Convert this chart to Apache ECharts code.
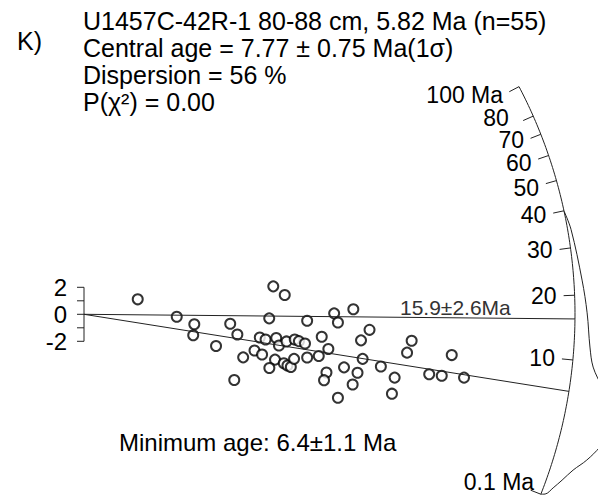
<!DOCTYPE html>
<html>
<head>
<meta charset="utf-8">
<title>Radial plot U1457C-42R-1</title>
<script src="https://cdn.jsdelivr.net/npm/echarts@6/dist/echarts.min.js"></script>
<style>
  html, body { margin: 0; padding: 0; background: #fff; }
  #chart { width: 613px; height: 497px; }
</style>
</head>
<body>
<div id="chart"></div>
<script>
// grains: precision (x) and standardised estimate (y)
const precision = [3.98, 6.87, 8.17, 8.09, 9.78, 10.83, 11.36, 11.79, 11.13, 12.63,
  13.19, 13.02, 13.45, 13.72, 14.02, 14.87, 14.24, 14.44, 15.00, 15.61,
  15.92, 16.37, 14.15, 13.73, 14.80, 15.07, 15.32, 15.56, 16.53, 16.53,
  17.39, 17.61, 18.10, 17.96, 17.78, 18.53, 18.81, 18.81, 19.95, 21.15,
  20.52, 20.64, 19.26, 20.26, 19.90, 24.27, 23.93, 27.24, 21.99, 23.01,
  25.57, 26.50, 28.15, 22.81];
const zScore = [1.11, -0.18, -0.74, -1.55, -2.35, -0.70, -1.50, -3.19, -4.87, -2.68,
  -2.98, -1.72, -1.87, -0.30, 2.07, 1.43, -1.76, -2.31, -2.01, -1.87,
  -1.99, -2.16, -3.36, -3.98, -3.63, -3.79, -3.90, -3.30, -0.48, -3.20,
  -3.09, -1.66, -2.57, -4.31, -4.88, 0.07, -0.61, -6.18, 0.37, -1.15,
  -1.93, -3.30, -3.93, -4.33, -5.20, -1.96, -2.84, -3.02, -3.87, -4.69,
  -4.44, -4.55, -4.69, -5.88];

// age scale on the arc (Ma)
const arcTickAges = [100, 80, 70, 60, 50, 40, 30, 20, 10, 0.1];
const arcTickLabels = ['100 Ma', '80', '70', '60', '50', '40', '30', '20', '10', '0.1 Ma'];

// standardised estimate scale
const zTicks = [2, 1, 0, -1, -2];
const zTickLabels = ['2', '', '0', '', '-2'];

// component lines (Ma)
const peakAges = [15.9, 6.4];

// density of the ages, drawn outside the arc (relative)
const kdeAges = [39.9, 34.5, 22.8, 16.9, 11.85, 9.38, 7.34, 5.60, 4.58, 3.59, 2.55, 1.66, 1.04, 0.57, 0.29, 0.125, 0.1];
const kdeDensity = [0, 0.07, 0.17, 0.25, 0.33, 0.43, 0.66, 0.89, 1.0, 0.99, 0.86, 0.67, 0.46, 0.31, 0.19, 0.08, 0];

// radial scale: age -> angle of the line through the origin
const C = 0.0042, K = 1.654, Z0 = 0.2586;
function ageAngle(t) {
  const z = Math.atan(Math.sqrt(C * t));
  return Math.atan(K * (z - Z0));
}

const PX = 13.5;          // px per unit, both axes
const R = 491 / PX;       // arc radius
const TICK = 11 / PX;
const LAB = 18 / PX;
const KDE_SCALE = 48.5 / PX;
const FONT = 'Liberation Sans, Arial, sans-serif';

function polar(r, a) { return [r * Math.cos(a), r * Math.sin(a)]; }

// arc from 0.1 to 100 Ma
const a0 = ageAngle(0.1), a1 = ageAngle(100);
const arcData = [];
for (let i = 0; i <= 120; i++) arcData.push(polar(R, a0 + (a1 - a0) * i / 120));

const kdeData = kdeAges.map((t, i) => polar(R + kdeDensity[i] * KDE_SCALE, ageAngle(t)));

const chart = echarts.init(document.getElementById('chart'), null, { renderer: 'svg' });

const lineSeries = peakAges.map(t => ({
  type: 'line',
  data: [[0, 0], polar(R, ageAngle(t))],
  showSymbol: false,
  clip: false,
  lineStyle: { color: '#222', width: 1 },
  silent: true
}));

function txt(text, x, y, size, fill) {
  return { type: 'text', style: { text: text, x: x, y: y, font: size + 'px ' + FONT, fill: fill || '#000',
    textVerticalAlign: 'middle', verticalAlign: 'middle' } };
}

const option = {
  animation: false,
  backgroundColor: '#fff',
  // x 0..38, y -13..18 at 13.5 px per unit, origin at (84, 314.3)
  grid: { left: 84, right: 16, top: 71.3, bottom: 7.2, outerBoundsMode: 'none', containLabel: false },
  xAxis: { type: 'value', min: 0, max: 38, show: false },
  yAxis: { type: 'value', min: -13, max: 18, show: false },
  graphic: [
    txt('K)', 17, 41, 25),
    txt('U1457C-42R-1 80-88 cm, 5.82 Ma (n=55)', 83, 21, 25),
    txt('Central age = 7.77 ± 0.75 Ma(1σ)', 83, 48, 25),
    txt('Dispersion = 56 %', 83, 75, 25),
    txt('P(χ²) = 0.00', 83, 102, 25),
    txt('Minimum age: 6.4±1.1 Ma', 119, 442, 24),
    txt('15.9±2.6Ma', 400, 307, 21, '#333')
  ],
  series: [
    {
      type: 'line',
      data: arcData,
      showSymbol: false,
      clip: false,
      lineStyle: { color: '#222', width: 1 },
      silent: true
    },
    ...lineSeries,
    {
      type: 'line',
      data: kdeData,
      smooth: 0.35,
      showSymbol: false,
      clip: false,
      lineStyle: { color: '#222', width: 1 },
      silent: true
    },
    {
      // ticks and labels of the age arc
      type: 'custom',
      clip: false,
      silent: true,
      data: arcTickAges.map((t, i) => [i, 0]),
      renderItem: function (params, api) {
        const i = params.dataIndex;
        const a = ageAngle(arcTickAges[i]);
        const p1 = api.coord(polar(R, a));
        const p2 = api.coord(polar(R - TICK, a));
        const pl = api.coord(polar(R - LAB, a));
        // crowded labels near the top, and the end label, are nudged like in the original
        let dx = 0, dy = 0;
        if (arcTickLabels[i] === '80') { dx = -8; dy = -5; }
        if (arcTickLabels[i] === '70') { dy = -1; }
        if (arcTickLabels[i] === '60') { dy = 2; }
        if (arcTickLabels[i] === '50') { dy = 3; }
        if (arcTickLabels[i] === '0.1 Ma') { dx = 10; dy = -6; }
        return {
          type: 'group',
          children: [
            { type: 'line', shape: { x1: p1[0], y1: p1[1], x2: p2[0], y2: p2[1] }, style: { stroke: '#222', lineWidth: 1 } },
            { type: 'text', style: { text: arcTickLabels[i], x: pl[0] + dx, y: pl[1] + dy, font: '23px ' + FONT, fill: '#000',
              textAlign: 'right', align: 'right', textVerticalAlign: 'middle', verticalAlign: 'middle' } }
          ]
        };
      }
    },
    {
      // standardised estimate bracket
      type: 'custom',
      clip: false,
      silent: true,
      data: zTicks.map((z) => [0, z]),
      renderItem: function (params, api) {
        const i = params.dataIndex;
        const p = api.coord([0, zTicks[i]]);
        const children = [
          { type: 'line', shape: { x1: p[0] - 7, y1: p[1], x2: p[0], y2: p[1] }, style: { stroke: '#222', lineWidth: 1 } },
          { type: 'text', style: { text: zTickLabels[i], x: p[0] - 17, y: p[1], font: '24px ' + FONT, fill: '#000',
            textAlign: 'right', align: 'right', textVerticalAlign: 'middle', verticalAlign: 'middle' } }
        ];
        if (i === 0) {
          const q = api.coord([0, zTicks[zTicks.length - 1]]);
          children.push({ type: 'line', shape: { x1: p[0], y1: p[1], x2: q[0], y2: q[1] }, style: { stroke: '#222', lineWidth: 1 } });
        }
        return { type: 'group', children: children };
      }
    },
    {
      type: 'scatter',
      data: precision.map((x, i) => [x, zScore[i]]),
      symbol: 'emptyCircle',
      symbolSize: 10,
      clip: false,
      itemStyle: { color: '#000', borderColor: '#000', borderWidth: 1 },
      silent: true
    }
  ]
};

chart.setOption(option);
</script>
</body>
</html>
